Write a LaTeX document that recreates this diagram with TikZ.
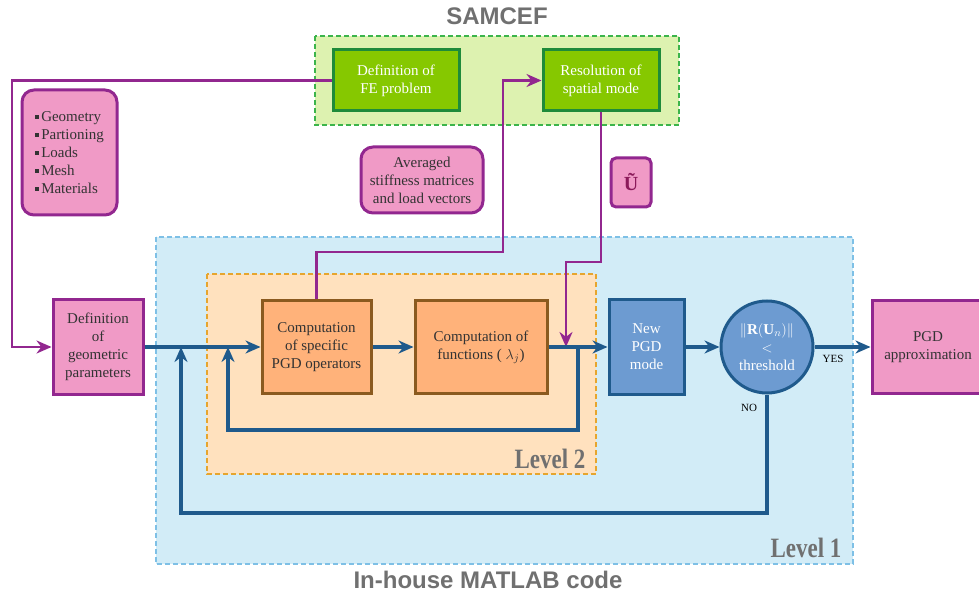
\documentclass[tikz,border=0pt]{standalone}
\usepackage{fontspec}
\setmainfont{Liberation Serif}
\newfontfamily\headfont{Liberation Sans}
\usepackage{graphicx}
\usetikzlibrary{arrows.meta}

\definecolor{samcefbg}{HTML}{DDF2B0}
\definecolor{samcefline}{HTML}{3CB44B}
\definecolor{fegreen}{HTML}{86C800}
\definecolor{fegreenline}{HTML}{1E8B3A}
\definecolor{pinkfill}{HTML}{F09AC6}
\definecolor{purpline}{HTML}{92278F}
\definecolor{darkpurple}{HTML}{8B1A5A}
\definecolor{levonebg}{HTML}{D2ECF7}
\definecolor{levoneline}{HTML}{7EC0E6}
\definecolor{levtwobg}{HTML}{FFE1BE}
\definecolor{levtwoline}{HTML}{E6A52E}
\definecolor{opsfill}{HTML}{FFB27A}
\definecolor{opsline}{HTML}{8B5A1F}
\definecolor{modefill}{HTML}{6D9BD1}
\definecolor{lineblue}{HTML}{1F5A8C}
\definecolor{textgray}{HTML}{333333}
\definecolor{titlegray}{HTML}{707070}

\newcommand{\bul}{\rule[2.5pt]{3.5pt}{3.5pt}\,}
\newcommand{\condensed}[1]{\scalebox{0.82}[1]{#1}}

\tikzset{
  boxtext/.style={align=center,font=\fontsize{15}{18}\selectfont,text=textgray,inner sep=2pt},
  febox/.style={boxtext,draw=fegreenline,fill=fegreen,line width=3pt,text=white,
    minimum width=126pt,minimum height=61pt},
  pinkbox/.style={boxtext,draw=purpline,fill=pinkfill,line width=3pt},
  pinkround/.style={pinkbox,rounded corners=12pt},
  opsbox/.style={boxtext,draw=opsline,fill=opsfill,line width=3pt,minimum height=93pt},
  modebox/.style={boxtext,draw=lineblue,fill=modefill,line width=3pt,text=white},
  frame/.style={dash pattern=on 5pt off 3pt,line width=1.3pt},
  bluearrow/.style={draw=lineblue,line width=3.2pt,-{Stealth[length=15pt,width=13pt]}},
  purplearrow/.style={draw=purpline,line width=2.6pt,-{Stealth[length=15pt,width=13pt]}},
  headtitle/.style={font=\headfont\bfseries\fontsize{24}{28}\selectfont,text=titlegray},
  leveltitle/.style={font=\bfseries\fontsize{28}{32}\selectfont,text=titlegray},
  smalllabel/.style={font=\fontsize{11}{13}\selectfont,text=black,inner sep=1pt}
}

\begin{document}
\begin{tikzpicture}[x=1pt,y=-1pt]
  \useasboundingbox (0,0) rectangle (979,593);
  % frames of the codes and levels
  \draw[frame,fill=samcefbg,draw=samcefline] (315,36) rectangle (679,125);
  \draw[frame,fill=levonebg,draw=levoneline] (156,237) rectangle (853,564);
  \draw[frame,fill=levtwobg,draw=levtwoline] (207,274) rectangle (596,474);
  \node[headtitle] (samcef) at (497,16) {SAMCEF};
  \node[headtitle] (matlab) at (488,580) {In-house MATLAB code};
  \node[leveltitle] (levtwo) at (550,459) {\condensed{Level 2}};
  \node[leveltitle] (levone) at (806,548) {\condensed{Level 1}};

  % boxes
  \node[febox] (fe) at (396,80.5) {Definition of\\FE problem};
  \node[febox,minimum width=116pt] (res) at (601,80.5) {Resolution of\\spatial mode};
  \node[pinkround,align=left,minimum width=95pt,minimum height=125pt] (data) at (69.5,152.5)
    {\bul Geometry\\\bul Partioning\\\bul Loads\\\bul Mesh\\\bul Materials};
  \node[pinkround,minimum width=122pt,minimum height=66pt] (avg) at (422,180)
    {Averaged\\stiffness matrices\\and load vectors};
  \node[pinkbox,rounded corners=5pt,minimum width=40pt,minimum height=49pt,text=darkpurple,
    font=\bfseries\fontsize{20}{24}\selectfont] (util) at (631,182.5) {Ũ};
  \node[pinkbox,minimum width=90pt,minimum height=94pt] (defgeom) at (98,347)
    {Definition\\of\\geometric\\parameters};
  \node[opsbox,minimum width=109pt] (ops) at (316.5,347) {Computation\\of specific\\PGD operators};
  \node[opsbox,minimum width=132pt] (fun) at (481,347) {Computation of\\functions ( $\lambda_j$)};
  \node[modebox,minimum width=75pt,minimum height=94pt] (newpgd) at (646.5,347) {New\\PGD\\mode};
  \node[modebox,shape=circle,minimum size=92pt,inner sep=0pt] (thr) at (767,347)
    {$\|\mathbf{R}(\mathbf{U}_n)\|$\\$<$\\threshold};
  \node[pinkbox,minimum width=112pt,minimum height=93pt] (approx) at (928,347) {PGD\\approximation};
  \node[smalllabel] (yes) at (833,359) {YES};
  \node[smalllabel] (no) at (749,408) {NO};

  % corners of the connectors
  \coordinate (lft) at (12,80.5);
  \coordinate (up) at (503,252);
  \coordinate (dn) at (566,262);
  \coordinate (jone) at (181,347);
  \coordinate (jtwo) at (228,347);
  \coordinate (jthree) at (578,347);
  \coordinate (jfour) at (566,347);
  \coordinate (outbot) at (181,513);
  \coordinate (inbot) at (228,430);

  % SAMCEF links
  \draw[purplearrow] (fe.west) -- (lft) |- (defgeom.west);
  \draw[purplearrow] (ops.north) |- (up) |- (res.west);
  \draw[purplearrow] (res.south) |- (dn) -- (jfour);

  % PGD loops
  \path[bluearrow] (defgeom) edge (ops) (ops) edge (fun) (fun) edge (newpgd)
    (newpgd) edge (thr) (thr) edge (approx);
  \draw[bluearrow] (jthree) |- (inbot) -- (jtwo);
  \draw[bluearrow] (thr.south) |- (outbot) -- (jone);
\end{tikzpicture}
\end{document}
